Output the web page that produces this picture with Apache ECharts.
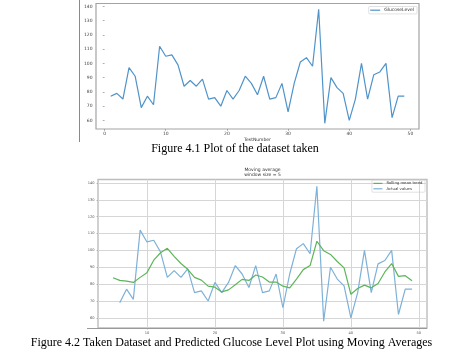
<!DOCTYPE html>
<html><head><meta charset="utf-8">
<script src="https://cdn.jsdelivr.net/npm/echarts@6/dist/echarts.min.js"></script>
<style>html,body{margin:0;padding:0;background:#fff}#c{width:469px;height:358px}</style>
</head><body><div id="c"></div>
<script>
// Figure 4.1 data: test number vs glucose level
const testNumbers = [1,2,3,4,5,6,7,8,9,10,11,12,13,14,15,16,17,18,19,20,21,22,23,24,25,26,27,28,29,30,31,32,33,34,35,36,37,38,39,40,41,42,43,44,45,46,47,48,49];
const glucoseLevel = [77,79,75,97,91,69,77,71,112,105,106,99,84,88,84,89,75,76,70,81,75,81,91,86,78,91,75,76,86,66,86,101,104,98,138,58,90,83,79,60,75,100,75,92,94,100,62,77,77];
// Figure 4.2: rolling mean (window 5), x = 5..49
const rollingX = [5,6,7,8,9,10,11,12,13,14,15,16,17,18,19,20,21,22,23,24,25,26,27,28,29,30,31,32,33,34,35,36,37,38,39,40,41,42,43,44,45,46,47,48,49];
const rollingMean = [83.8,82.2,81.8,81.0,84.0,86.8,94.2,98.6,101.2,96.4,92.2,88.8,84.0,82.4,78.8,78.2,75.4,76.6,79.6,82.8,82.2,85.4,84.2,81.2,81.2,78.8,77.8,83.0,88.6,91.0,105.4,99.8,97.6,93.4,89.6,74.0,77.4,79.4,77.8,80.4,87.2,92.2,84.6,85.0,82.0];
// Actual values shown in Figure 4.2 start at test number 6
const actualStart = 6;
const xTicks1 = [0,10,20,30,40,50];
const yTicks = [60,70,80,90,100,110,120,130,140];
const xTicks2 = [10,20,30,40,50];

const s1 = testNumbers.map((x,i)=>[x, glucoseLevel[i]]);
const sActual = testNumbers.map((x,i)=>[x, glucoseLevel[i]]).filter(p=>p[0]>=actualStart);
const sRoll = rollingX.map((x,i)=>[x, rollingMean[i]]);

const chart = echarts.init(document.getElementById('c'), null, {renderer:'canvas'});
const lblFont = 'DejaVu Sans';
chart.setOption({
  animation:false,
  backgroundColor:'#fff',
  title:{text:'Moving average\nwindow size = 5', left:262.5, top:167.5, textAlign:'center', padding:0,
    textStyle:{fontSize:4.5, lineHeight:4.6, fontWeight:'normal', color:'#333', fontFamily:lblFont}},
  legend:[
    {data:['GlucoseLevel'], right:52, top:6.5, orient:'vertical', icon:'rect', itemWidth:10, itemHeight:1.2,
     padding:[1.2,3,1.2,1.5], borderColor:'#ccc', borderWidth:0.6, borderRadius:1, itemGap:1,
     textStyle:{fontSize:4.5, color:'#333', fontFamily:lblFont, padding:[0,0,0,-1]}},
    {data:['Rolling mean trend','Actual values'], right:44, top:180, orient:'vertical', icon:'rect', itemWidth:9, itemHeight:1.2,
     padding:[1.4,2.5,1.4,1.5], borderColor:'#ccc', borderWidth:0.6, borderRadius:1, itemGap:1.4,
     textStyle:{fontSize:3.8, lineHeight:4, color:'#333', fontFamily:lblFont, padding:[0,0,0,-1]}}
  ],
  grid:[
    {left:96, top:3.5, width:323, height:125.5, show:true, borderColor:'#a3a3a3', borderWidth:1.2, backgroundColor:'#fff', containLabel:false},
    {left:98, top:179.5, width:329, height:148.5, show:true, borderColor:'#bdbdbd', borderWidth:1.4, backgroundColor:'#fff', containLabel:false}
  ],
  xAxis:[
    {gridIndex:0, type:'value', min:-1.4, max:51.4, name:'TestNumber', nameLocation:'middle', nameGap:8.5,
     nameTextStyle:{fontSize:4.5, color:'#333', fontFamily:lblFont},
     axisLine:{show:false}, axisTick:{show:true, length:1.8, customValues:xTicks1, lineStyle:{color:'#777', width:0.6}},
     axisLabel:{customValues:xTicks1, fontSize:4.5, color:'#444', margin:2.5, fontFamily:lblFont}, splitLine:{show:false}},
    {gridIndex:1, type:'value', min:2.8, max:51.2,
     axisLine:{show:false}, axisTick:{show:true, length:1.5, customValues:xTicks2, lineStyle:{color:'#999', width:0.6}},
     axisLabel:{customValues:xTicks2, fontSize:3.6, color:'#555', margin:3, fontFamily:lblFont},
     splitLine:{show:true, lineStyle:{color:'#d6d6d6', width:1}}}
  ],
  yAxis:[
    {gridIndex:0, type:'value', min:54, max:142,
     axisLine:{show:false}, axisTick:{show:true, length:1.8, customValues:yTicks, lineStyle:{color:'#777', width:0.6}},
     axisLabel:{customValues:yTicks, fontSize:4.5, color:'#444', margin:3.5, fontFamily:lblFont}, splitLine:{show:false}},
    {gridIndex:1, type:'value', min:54, max:142,
     axisLine:{show:false}, axisTick:{show:true, length:1.5, customValues:yTicks, lineStyle:{color:'#999', width:0.6}},
     axisLabel:{customValues:yTicks, fontSize:3.6, color:'#555', margin:3.5, fontFamily:lblFont},
     splitLine:{show:true, lineStyle:{color:'#d6d6d6', width:1}}}
  ],
  series:[
    {name:'GlucoseLevel', type:'line', xAxisIndex:0, yAxisIndex:0, data:s1, showSymbol:false, color:'#4f93c9',
     lineStyle:{width:1.2, color:'#4f93c9'}},
    {name:'Rolling mean trend', type:'line', xAxisIndex:1, yAxisIndex:1, data:sRoll, showSymbol:false, color:'#5db55a',
     lineStyle:{width:1.2, color:'#5db55a'}, z:3},
    {name:'Actual values', type:'line', xAxisIndex:1, yAxisIndex:1, data:sActual, showSymbol:false, color:'#7db1d8',
     lineStyle:{width:1.2, color:'#7db1d8'}, z:2}
  ],
  graphic:[
    {type:'line', shape:{x1:79.5, y1:0, x2:79.5, y2:142}, style:{stroke:'#8a8a8a', lineWidth:1}},
    {type:'line', shape:{x1:87, y1:328.5, x2:427, y2:328.5}, style:{stroke:'#9a9a9a', lineWidth:1}},
    {type:'text', x:235, y:148.5, style:{text:'Figure 4.1 Plot of the dataset taken', font:'12px "Liberation Serif"', fill:'#000', textAlign:'center', textVerticalAlign:'middle'}},
    {type:'text', x:231.5, y:343, style:{text:'Figure 4.2 Taken Dataset and Predicted Glucose Level Plot using Moving Averages', font:'12px "Liberation Serif"', fill:'#000', textAlign:'center', textVerticalAlign:'middle'}}
  ]
});
</script></body></html>
